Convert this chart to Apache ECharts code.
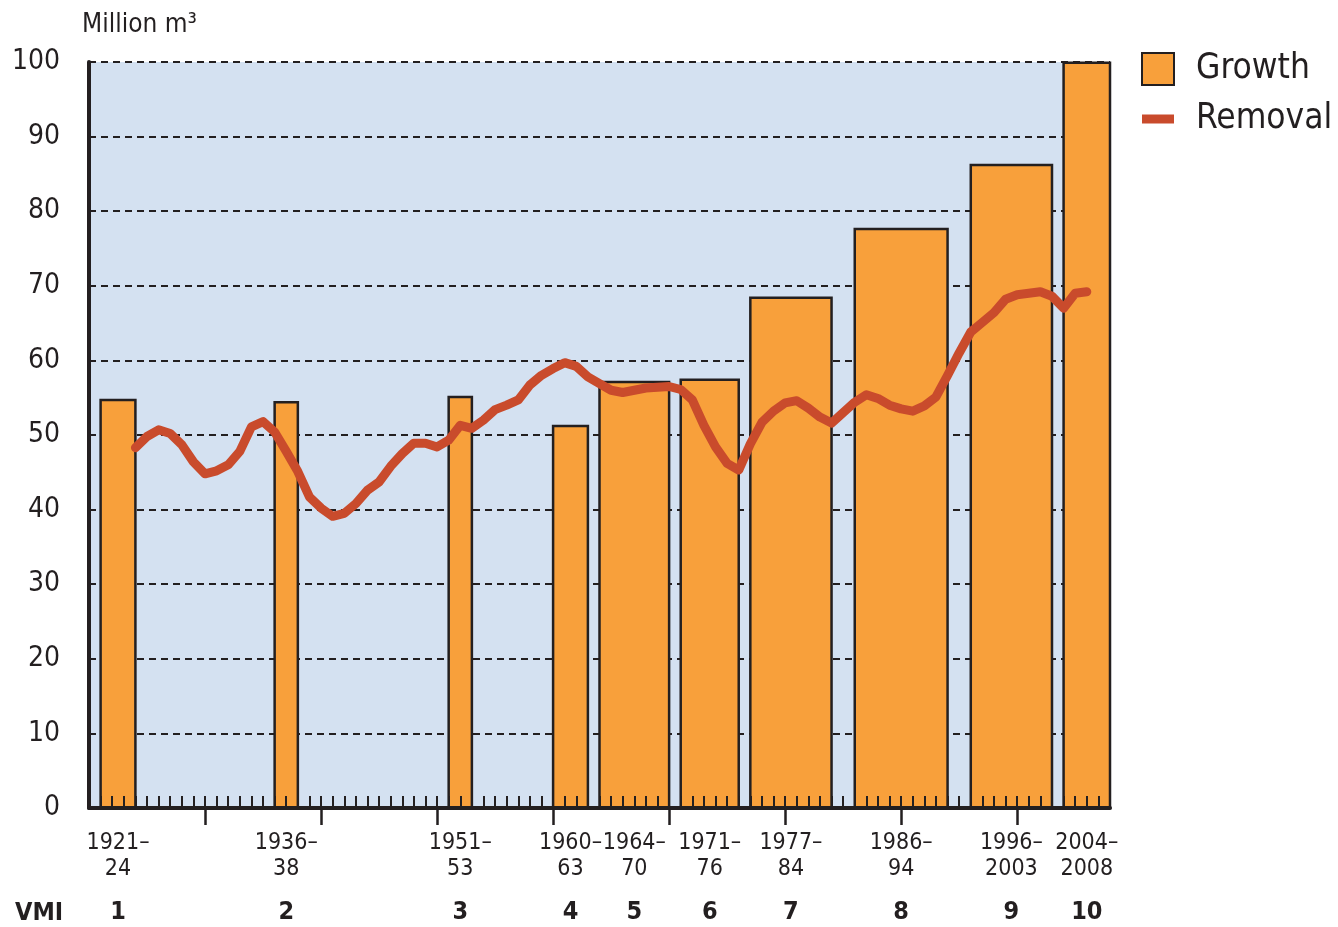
<!DOCTYPE html>
<html><head><meta charset="utf-8">
<script src="https://cdn.jsdelivr.net/npm/echarts@6/dist/echarts.min.js"></script>
<style>html,body{margin:0;padding:0;background:#fff}#c{width:1338px;height:927px}</style>
</head><body><div id="c"></div>
<script>
// ---- data ----
const periodStart = [1921, 1936, 1951, 1960, 1964, 1971, 1977, 1986, 1996, 2004];
const periodEnd   = [1924, 1938, 1953, 1963, 1970, 1976, 1984, 1994, 2003, 2008];
const periodLabels = ['1921–\n24', '1936–\n38', '1951–\n53', '1960–\n63', '1964–\n70', '1971–\n76', '1977–\n84', '1986–\n94', '1996–\n2003', '2004–\n2008'];
const vmiLabels = ['1', '2', '3', '4', '5', '6', '7', '8', '9', '10'];
const growth = [54.7, 54.4, 55.1, 51.2, 57.1, 57.4, 68.4, 77.6, 86.2, 99.9];
const removalYears = [1924,1925,1926,1927,1928,1929,1930,1931,1932,1933,1934,1935,1936,1937,1938,1939,1940,1941,1942,1943,1944,1945,1946,1947,1948,1949,1950,1951,1952,1953,1954,1955,1956,1957,1958,1959,1960,1961,1962,1963,1964,1965,1966,1967,1968,1969,1970,1971,1972,1973,1974,1975,1976,1977,1978,1979,1980,1981,1982,1983,1984,1985,1986,1987,1988,1989,1990,1991,1992,1993,1994,1995,1996,1997,1998,1999,2000,2001,2002,2003,2004,2005,2006];
const removal = [48.3,49.8,50.7,50.2,48.7,46.4,44.8,45.2,46.0,47.8,51.1,51.8,50.4,47.8,45.1,41.7,40.2,39.1,39.5,40.8,42.6,43.7,45.8,47.5,48.9,48.9,48.4,49.3,51.3,50.9,52.0,53.4,54.0,54.7,56.7,58.0,58.9,59.7,59.2,57.8,56.9,56.0,55.7,56.0,56.3,56.4,56.5,56.1,54.7,51.3,48.4,46.2,45.3,48.8,51.7,53.2,54.3,54.6,53.6,52.4,51.6,53.0,54.4,55.4,54.9,54.0,53.5,53.2,53.9,55.1,58.0,61.0,63.8,65.1,66.4,68.2,68.8,69.0,69.2,68.6,67.0,69.0,69.2];
const majorTickYears = [1930, 1940, 1950, 1960, 1970, 1980, 1990, 2000];

// ---- styling ----
const FONT = "'Liberation Sans Narrow', 'DejaVu Sans Condensed', 'Roboto', sans-serif";
const INK = '#231f20';
const ORANGE = '#f8a03b';
const RED = '#c94b2c';

const centers = periodStart.map((s, i) => (s + periodEnd[i]) / 2);
function idxOf(v) {
  let best = 0, d = Infinity;
  centers.forEach((c, i) => { if (Math.abs(c - v) < d) { d = Math.abs(c - v); best = i; } });
  return best;
}

const growthData = periodStart.map((s, i) => [s, periodEnd[i], growth[i]]);
const removalData = removalYears.map((y, i) => [y, removal[i]]);

const chart = echarts.init(document.getElementById('c'));
const baseX = { type: 'value', min: 1920, max: 2008, position: 'bottom', splitLine: { show: false } };

chart.setOption({
  animation: false,
  textStyle: { fontFamily: FONT },
  grid: { left: 89, right: 228, top: 62, bottom: 119, show: true, backgroundColor: '#d4e1f1', borderWidth: 0 },
  legend: {
    orient: 'vertical', left: 1141, top: 49, padding: 0, itemGap: 10,
    itemWidth: 32, itemHeight: 32,
    textStyle: { fontSize: 35, lineHeight: 40, color: INK, fontFamily: FONT, padding: [0, 0, 0, 17] },
    data: [
      { name: 'Growth', icon: 'rect', itemStyle: { color: ORANGE, borderColor: INK, borderWidth: 2 } },
      { name: 'Removal', icon: 'path://M0,0H32V9H0Z', itemStyle: { color: RED } }
    ]
  },
  xAxis: [
    Object.assign({}, baseX, {
      z: 3, interval: 1,
      axisLine: { show: true, lineStyle: { color: INK, width: 4 } },
      axisTick: { show: true, inside: true, length: 12, lineStyle: { color: INK, width: 2 } },
      axisLabel: { show: false }
    }),
    Object.assign({}, baseX, {
      z: 3,
      axisLine: { show: false },
      axisTick: { show: true, inside: false, length: 17, customValues: majorTickYears, lineStyle: { color: INK, width: 2.5 } },
      axisLabel: {
        show: true, customValues: centers, margin: 22,
        fontSize: 23, lineHeight: 26, color: INK, fontFamily: FONT,
        formatter: v => periodLabels[idxOf(v)]
      }
    }),
    Object.assign({}, baseX, {
      axisLine: { show: false }, axisTick: { show: false },
      axisLabel: {
        show: true, customValues: centers, margin: 92,
        fontSize: 25, fontWeight: 'bold', color: INK, fontFamily: FONT,
        formatter: v => vmiLabels[idxOf(v)]
      }
    })
  ],
  yAxis: {
    type: 'value', min: 0, max: 100, interval: 10,
    name: 'Million m³', nameLocation: 'end', nameGap: 24,
    nameTextStyle: { fontSize: 26, color: INK, align: 'left', padding: [0, 0, 0, -7], fontFamily: FONT },
    axisLine: { show: true, lineStyle: { color: INK, width: 4 } },
    axisTick: { show: false },
    axisLabel: { fontSize: 28, color: INK, margin: 29, fontFamily: FONT },
    splitLine: { show: true, lineStyle: { color: INK, width: 2, type: [7, 5] } }
  },
  graphic: [
    { type: 'text', left: 15, top: 901, style: { text: 'VMI', font: 'bold 25px ' + FONT, fill: INK } }
  ],
  series: [
    {
      name: 'Growth', type: 'custom', xAxisIndex: 0, z: 2,
      itemStyle: { color: ORANGE },
      data: growthData,
      encode: { x: [0, 1], y: 2 },
      renderItem: function (params, api) {
        const p0 = api.coord([api.value(0), api.value(2)]);
        const p1 = api.coord([api.value(1), 0]);
        return {
          type: 'rect',
          shape: { x: p0[0], y: p0[1], width: p1[0] - p0[0], height: p1[1] - p0[1] },
          style: { fill: ORANGE, stroke: INK, lineWidth: 2.5 }
        };
      }
    },
    {
      name: 'Removal', type: 'line', xAxisIndex: 0, z: 5,
      data: removalData, showSymbol: false, symbol: 'none', smooth: false,
      lineStyle: { color: RED, width: 9, cap: 'round', join: 'round' },
      itemStyle: { color: RED }
    }
  ]
});
</script>
</body></html>
